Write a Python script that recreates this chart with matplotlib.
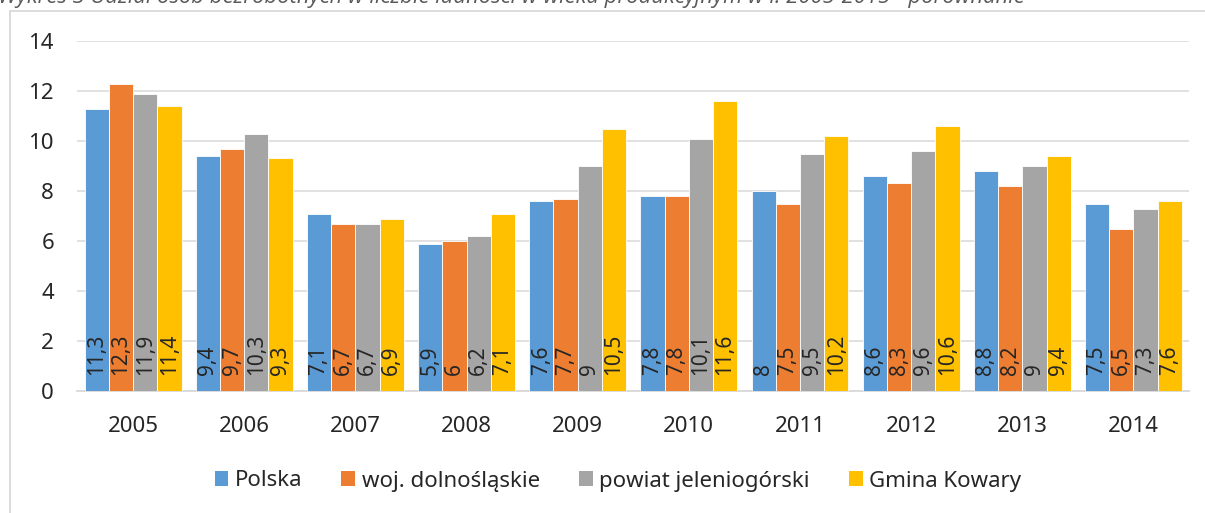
import numpy as np
import matplotlib
matplotlib.use("Agg")
import matplotlib.pyplot as plt
from matplotlib.patches import Rectangle, Patch

years = ["2005", "2006", "2007", "2008", "2009", "2010", "2011", "2012", "2013", "2014"]
polska = [11.3, 9.4, 7.1, 5.9, 7.6, 7.8, 8.0, 8.6, 8.8, 7.5]
dolnoslaskie = [12.3, 9.7, 6.7, 6.0, 7.7, 7.8, 7.5, 8.3, 8.2, 6.5]
jeleniogorski = [11.9, 10.3, 6.7, 6.2, 9.0, 10.1, 9.5, 9.6, 9.0, 7.3]
kowary = [11.4, 9.3, 6.9, 7.1, 10.5, 11.6, 10.2, 10.6, 9.4, 7.6]

series_names = ["Polska", "woj. dolnośląskie", "powiat jeleniogórski", "Gmina Kowary"]
series_values = [polska, dolnoslaskie, jeleniogorski, kowary]
colors = ["#5B9BD5", "#ED7D31", "#A5A5A5", "#FFC000"]

title = ("Wykres 3 Udział osób bezrobotnych w liczbie ludności w wieku "
         "produkcyjnym w l. 2005-2015 - porównanie")

plt.rcParams["font.family"] = ["Noto Sans", "DejaVu Sans"]

W, H = 1205, 513
fig = plt.figure(figsize=(W / 100, H / 100), dpi=100)

# chart frame (only top and left edges visible in the crop)
fig.add_artist(Rectangle((9.5 / W, -0.1), 1.2, 1 - 11.5 / H + 0.1,
                         transform=fig.transFigure, fill=False,
                         edgecolor="#D9D9D9", linewidth=1.3))

# the caption is cut by the top edge in the source image
fig.text(-0.002, 1 + 3 / H, title, ha="left", va="center", fontsize=15.8,
         style="italic", color="#595959", family=["Open Sans", "DejaVu Sans"])

ax = fig.add_axes([77.5 / W, 1 - 391 / H, (1189 - 77.5) / W, (391 - 41) / H])

x = np.arange(len(years))
bw = 0.218
for i, (name, vals, col) in enumerate(zip(series_names, series_values, colors)):
    pos = x + (i - 1.5) * bw
    ax.bar(pos, vals, width=bw, color=col, edgecolor="white", linewidth=0.6,
           label=name, zorder=3)
    for px, v in zip(pos, vals):
        lbl = f"{v:g}".replace(".", ",")
        ax.annotate(lbl, (px, 0), xytext=(0, 16), textcoords="offset pixels",
                    rotation=90, ha="center", va="bottom", fontsize=15,
                    color="#262626", zorder=4)

ax.set_xlim(-0.5, len(years) - 0.5)
ax.set_ylim(0, 14)
ax.set_yticks(range(0, 15, 2))
ax.set_xticks(x)
ax.set_xticklabels(years)
ax.tick_params(axis="both", length=0, labelsize=16, colors="#262626")
ax.tick_params(axis="y", pad=17)
ax.tick_params(axis="x", pad=18)
ax.grid(axis="y", color="#D9D9D9", linewidth=1.1, zorder=0)
for s in ["top", "right", "left"]:
    ax.spines[s].set_visible(False)
ax.spines["bottom"].set_color("#D9D9D9")
ax.spines["bottom"].set_linewidth(1.3)

handles = [Patch(facecolor=c, edgecolor="none") for c in colors]
fig.legend(handles, series_names, loc="center", bbox_to_anchor=(618 / W, 1 - 481 / H),
           ncol=4, frameon=False, fontsize=16, handlelength=0.62, handleheight=0.62,
           handletextpad=0.3, columnspacing=1.75, labelcolor="#262626")

fig.savefig("out.png", dpi=100)
